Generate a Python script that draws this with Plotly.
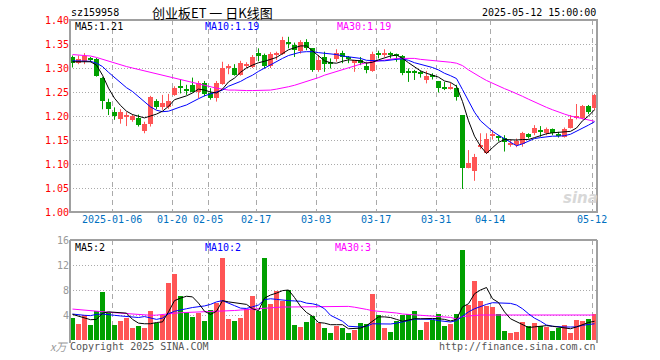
import plotly.graph_objects as go

dates = (["2024-12-25", "2024-12-26", "2024-12-27", "2024-12-30", "2024-12-31",
          "2025-01-02", "2025-01-03"]
         + ["2025-01-%02d" % d for d in (6, 7, 8, 9, 10, 13, 14, 15, 16, 17, 20, 21, 22, 23, 24, 27)]
         + ["2025-02-%02d" % d for d in (5, 6, 7, 10, 11, 12, 13, 14, 17, 18, 19, 20, 21, 24, 25, 26, 27, 28)]
         + ["2025-03-%02d" % d for d in (3, 4, 5, 6, 7, 10, 11, 12, 13, 14, 17, 18, 19, 20, 21, 24, 25, 26, 27, 28, 31)]
         + ["2025-04-%02d" % d for d in (1, 2, 3, 7, 8, 9, 10, 11, 14, 15, 16, 17, 18, 21, 22, 23, 24, 25, 28, 29, 30)]
         + ["2025-05-%02d" % d for d in (6, 7, 8, 9, 12)])

opens = [1.322, 1.310, 1.314, 1.320, 1.318, 1.279, 1.229, 1.209, 1.194, 1.199,
         1.191, 1.195, 1.168, 1.183, 1.232, 1.219, 1.219, 1.244, 1.263, 1.256,
         1.265, 1.251, 1.269, 1.247, 1.237, 1.267, 1.300, 1.301, 1.286, 1.305,
         1.303, 1.332, 1.327, 1.305, 1.328, 1.329, 1.352, 1.348, 1.336, 1.355,
         1.341, 1.296, 1.323, 1.312, 1.318, 1.332, 1.321, 1.310, 1.316, 1.304,
         1.294, 1.330, 1.329, 1.330, 1.328, 1.325, 1.291, 1.291, 1.290, 1.276,
         1.283, 1.273, 1.258, 1.256, 1.258, 1.202, 1.092, 1.086, 1.136, 1.122,
         1.159, 1.156, 1.155, 1.140, 1.140, 1.142, 1.162, 1.164, 1.168, 1.164,
         1.172, 1.161, 1.157, 1.176, 1.196, 1.195, 1.221, 1.216]
closes = [1.311, 1.318, 1.325, 1.318, 1.284, 1.232, 1.215, 1.201, 1.209, 1.201,
          1.200, 1.182, 1.183, 1.239, 1.218, 1.228, 1.232, 1.258, 1.258, 1.253,
          1.251, 1.269, 1.246, 1.237, 1.268, 1.299, 1.302, 1.286, 1.310, 1.309,
          1.323, 1.325, 1.305, 1.329, 1.330, 1.358, 1.350, 1.337, 1.355, 1.341,
          1.296, 1.316, 1.309, 1.310, 1.332, 1.323, 1.320, 1.316, 1.310, 1.296,
          1.330, 1.329, 1.330, 1.329, 1.327, 1.289, 1.290, 1.290, 1.288, 1.283,
          1.282, 1.259, 1.257, 1.261, 1.240, 1.092, 1.103, 1.114, 1.138, 1.152,
          1.161, 1.155, 1.145, 1.142, 1.148, 1.164, 1.157, 1.176, 1.167, 1.172,
          1.165, 1.160, 1.173, 1.193, 1.198, 1.221, 1.209, 1.244]
highs = [1.326, 1.326, 1.331, 1.323, 1.321, 1.281, 1.236, 1.218, 1.214, 1.208,
         1.204, 1.203, 1.188, 1.242, 1.235, 1.244, 1.246, 1.262, 1.276, 1.265,
         1.280, 1.273, 1.273, 1.258, 1.273, 1.313, 1.308, 1.308, 1.315, 1.312,
         1.327, 1.341, 1.330, 1.333, 1.334, 1.365, 1.365, 1.353, 1.358, 1.360,
         1.341, 1.327, 1.334, 1.320, 1.339, 1.336, 1.325, 1.316, 1.323, 1.313,
         1.334, 1.336, 1.339, 1.334, 1.330, 1.327, 1.299, 1.296, 1.295, 1.294,
         1.289, 1.273, 1.271, 1.269, 1.265, 1.202, 1.129, 1.121, 1.164, 1.164,
         1.171, 1.160, 1.160, 1.151, 1.153, 1.167, 1.164, 1.181, 1.179, 1.176,
         1.174, 1.167, 1.176, 1.202, 1.225, 1.223, 1.223, 1.246]
lows = [1.301, 1.308, 1.308, 1.312, 1.282, 1.214, 1.202, 1.192, 1.184, 1.179,
        1.188, 1.178, 1.164, 1.178, 1.214, 1.213, 1.215, 1.242, 1.247, 1.244,
        1.249, 1.237, 1.241, 1.234, 1.230, 1.265, 1.287, 1.284, 1.284, 1.300,
        1.300, 1.314, 1.299, 1.300, 1.317, 1.327, 1.341, 1.323, 1.330, 1.337,
        1.292, 1.292, 1.292, 1.299, 1.313, 1.310, 1.310, 1.292, 1.306, 1.289,
        1.292, 1.320, 1.323, 1.320, 1.313, 1.285, 1.271, 1.275, 1.280, 1.268,
        1.276, 1.249, 1.254, 1.255, 1.232, 1.048, 1.091, 1.065, 1.131, 1.121,
        1.151, 1.147, 1.126, 1.136, 1.135, 1.136, 1.153, 1.160, 1.157, 1.160,
        1.160, 1.155, 1.155, 1.174, 1.193, 1.193, 1.204, 1.212]

ma5 = [1.313, 1.313, 1.313, 1.313, 1.306, 1.285, 1.258, 1.237, 1.222, 1.210,
       1.203, 1.199, 1.196, 1.200, 1.204, 1.210, 1.220, 1.234, 1.238, 1.242,
       1.248, 1.256, 1.254, 1.250, 1.248, 1.256, 1.271, 1.279, 1.291, 1.300,
       1.306, 1.311, 1.314, 1.318, 1.322, 1.330, 1.338, 1.342, 1.346, 1.346,
       1.336, 1.326, 1.315, 1.311, 1.310, 1.314, 1.317, 1.316, 1.315, 1.310,
       1.312, 1.317, 1.321, 1.325, 1.327, 1.320, 1.311, 1.303, 1.294, 1.289,
       1.285, 1.281, 1.273, 1.270, 1.262, 1.230, 1.190, 1.158, 1.137, 1.122,
       1.134, 1.145, 1.151, 1.150, 1.150, 1.151, 1.151, 1.155, 1.159, 1.163,
       1.165, 1.166, 1.166, 1.168, 1.175, 1.190, 1.200, 1.213]
ma10 = [1.315, 1.315, 1.315, 1.314, 1.310, 1.303, 1.291, 1.280, 1.268, 1.259,
        1.251, 1.241, 1.230, 1.219, 1.212, 1.209, 1.210, 1.215, 1.219, 1.223,
        1.230, 1.236, 1.242, 1.246, 1.249, 1.254, 1.262, 1.267, 1.272, 1.279,
        1.285, 1.293, 1.300, 1.307, 1.314, 1.320, 1.326, 1.330, 1.333, 1.334,
        1.334, 1.332, 1.331, 1.330, 1.328, 1.325, 1.323, 1.322, 1.320, 1.316,
        1.315, 1.315, 1.315, 1.317, 1.318, 1.319, 1.316, 1.311, 1.308, 1.305,
        1.301, 1.296, 1.289, 1.284, 1.278, 1.255, 1.230, 1.208, 1.190, 1.178,
        1.168, 1.160, 1.153, 1.146, 1.138, 1.142, 1.148, 1.153, 1.155, 1.157,
        1.158, 1.158, 1.159, 1.162, 1.168, 1.175, 1.181, 1.188]
ma30 = [1.328, 1.327, 1.326, 1.325, 1.322, 1.318, 1.314, 1.310, 1.306, 1.303,
        1.300, 1.297, 1.293, 1.290, 1.287, 1.284, 1.281, 1.278, 1.275, 1.272,
        1.269, 1.266, 1.263, 1.260, 1.258, 1.256, 1.254, 1.254, 1.253, 1.253,
        1.253, 1.253, 1.254, 1.254, 1.256, 1.258, 1.261, 1.264, 1.268, 1.272,
        1.275, 1.280, 1.285, 1.289, 1.293, 1.297, 1.300, 1.304, 1.308, 1.311,
        1.313, 1.315, 1.316, 1.318, 1.320, 1.320, 1.320, 1.320, 1.318, 1.317,
        1.315, 1.314, 1.313, 1.312, 1.310, 1.305, 1.296, 1.288, 1.281, 1.274,
        1.268, 1.262, 1.257, 1.252, 1.247, 1.241, 1.235, 1.229, 1.223, 1.218,
        1.213, 1.208, 1.204, 1.200, 1.197, 1.194, 1.191, 1.189]

volume = [3.6, 2.6, 4.05, 2.45, 4.7, 7.7, 4.5, 2.45, 3.1, 3.5,
          2.0, 2.3, 2.0, 4.7, 2.8, 4.05, 9.2, 10.6, 7.1, 4.5,
          3.7, 4.4, 3.1, 4.85, 5.95, 13.2, 3.4, 3.1, 3.6, 5.0,
          7.1, 4.7, 13.2, 5.8, 7.9, 6.3, 8.0, 2.45, 2.1, 2.9,
          3.9, 2.8, 2.0, 1.1, 2.3, 1.85, 1.2, 1.6, 2.8, 2.6,
          7.4, 4.0, 1.85, 1.3, 3.0, 4.0, 4.2, 4.7, 1.65, 2.9,
          3.25, 4.2, 2.3, 2.6, 4.2, 14.45, 5.65, 9.5, 6.3, 5.5,
          5.35, 4.2, 1.5, 1.17, 1.33, 2.9, 2.3, 2.8, 2.3, 2.1,
          1.5, 2.0, 2.45, 1.17, 3.25, 3.1, 3.4, 4.2]
vma5 = [4.1, 3.8, 3.5, 3.25, 3.3, 4.3, 4.5, 4.45, 4.4, 4.3,
        3.3, 2.7, 2.6, 2.6, 2.8, 2.9, 4.5, 6.3, 6.7, 7.0,
        6.9, 5.9, 4.6, 4.1, 4.6, 6.3, 6.1, 6.0, 5.8, 5.7,
        5.0, 4.7, 6.7, 7.2, 7.5, 7.9, 8.0, 6.8, 5.4, 4.4,
        3.8, 2.8, 2.7, 2.45, 2.45, 2.45, 1.8, 1.8, 1.9, 2.3,
        3.0, 3.7, 3.7, 3.6, 3.3, 3.0, 3.2, 3.4, 3.4, 3.45,
        3.45, 3.4, 3.3, 3.05, 3.3, 5.3, 5.8, 7.4, 8.0, 8.4,
        6.6, 6.0, 4.5, 3.4, 2.9, 2.4, 2.0, 2.1, 2.2, 2.3,
        2.2, 2.05, 1.9, 1.8, 2.1, 2.5, 2.8, 3.0]
vma10 = [4.15, 4.0, 3.95, 3.9, 4.1, 4.15, 4.0, 3.95, 3.85, 3.78,
         3.7, 3.6, 3.75, 3.5, 3.3, 3.5, 4.2, 4.6, 4.75, 5.0,
         5.2, 5.3, 5.45, 5.7, 6.1, 6.3, 5.95, 5.5, 5.1, 5.05,
         5.3, 5.6, 6.45, 6.6, 6.5, 6.35, 6.3, 6.25, 6.2, 5.9,
         5.8, 5.55, 5.0, 3.95, 3.5, 3.0, 2.2, 2.1, 2.08, 2.2,
         2.6, 2.58, 2.56, 2.56, 2.7, 2.85, 3.1, 3.35, 3.36, 3.36,
         3.3, 3.1, 3.0, 2.88, 3.1, 3.8, 4.5, 5.0, 5.4, 5.7,
         5.97, 5.95, 5.9, 5.86, 5.6, 5.0, 4.2, 3.5, 3.0, 2.4,
         2.2, 2.1, 2.08, 2.08, 2.1, 2.35, 2.5, 2.6]
vma30 = [4.95, 4.85, 4.75, 4.65, 4.55, 4.48, 4.42, 4.36, 4.30, 4.22,
         4.16, 4.10, 4.04, 3.96, 3.98, 4.04, 4.15, 4.28, 4.37, 4.40,
         4.41, 4.42, 4.48, 4.56, 4.63, 4.66, 4.69, 4.72, 4.80, 4.88,
         4.95, 5.03, 5.12, 5.20, 5.27, 5.28, 5.28, 5.28, 5.28, 5.28,
         5.28, 5.28, 5.28, 5.28, 5.32, 5.36, 5.38, 5.25, 5.12, 4.90,
         4.69, 4.62, 4.55, 4.48, 4.32, 4.16, 4.10, 4.05, 4.00, 3.95,
         3.89, 3.80, 3.72, 3.62, 3.36, 3.75, 3.85, 3.95, 4.00, 4.00,
         4.00, 4.00, 4.00, 4.00, 4.00, 4.00, 4.00, 4.00, 4.00, 4.00,
         4.00, 4.00, 4.00, 4.00, 4.00, 4.00, 4.00, 4.00]

tick_dates = ["2025-01-06", "2025-01-20", "2025-02-05", "2025-02-17", "2025-03-03",
              "2025-03-17", "2025-03-31", "2025-04-14", "2025-05-12"]
tick_text = ["2025-01-06", "01-20", "02-05", "02-17", "03-03", "03-17", "03-31", "04-14", "05-12"]
price_ticks = [1.00, 1.05, 1.10, 1.15, 1.20, 1.25, 1.30, 1.35, 1.40]
vol_ticks = [4, 8, 12, 16]

RED = "#ff5555"
GREEN = "#00a000"
MONO = "DejaVu Sans Mono"

x = list(range(len(dates)))
up = [c >= o for o, c in zip(opens, closes)]

fig = go.Figure()

# candle wicks
for flag, col in ((True, RED), (False, GREEN)):
    wx, wy = [], []
    for i in x:
        if up[i] == flag:
            wx += [i, i, None]
            wy += [lows[i], highs[i], None]
    fig.add_trace(go.Scatter(x=wx, y=wy, mode="lines", line=dict(color=col, width=1),
                             hoverinfo="skip", showlegend=False, xaxis="x", yaxis="y"))

# candle bodies
for flag, col in ((True, RED), (False, GREEN)):
    bx = [i for i in x if up[i] == flag]
    base = [min(opens[i], closes[i]) for i in bx]
    h = [max(abs(closes[i] - opens[i]), 0.0021) for i in bx]
    fig.add_trace(go.Bar(x=bx, y=h, base=base, width=5 / 6, marker=dict(color=col, line=dict(width=0)),
                         showlegend=False, xaxis="x", yaxis="y"))

for arr, col in ((ma30, "#ff00ff"), (ma10, "#0000ff"), (ma5, "#000000")):
    fig.add_trace(go.Scatter(x=x, y=arr, mode="lines", line=dict(color=col, width=1),
                             showlegend=False, xaxis="x", yaxis="y"))

# volume
for flag, col in ((True, RED), (False, GREEN)):
    bx = [i for i in x if up[i] == flag]
    fig.add_trace(go.Bar(x=bx, y=[volume[i] for i in bx], width=5 / 6,
                         marker=dict(color=col, line=dict(width=0)),
                         showlegend=False, xaxis="x2", yaxis="y2"))
for arr, col in ((vma30, "#ff00ff"), (vma10, "#0000ff"), (vma5, "#000000")):
    fig.add_trace(go.Scatter(x=x, y=arr, mode="lines", line=dict(color=col, width=1),
                             showlegend=False, xaxis="x2", yaxis="y2"))

L, R, T, B = 70, 63, 20, 20
W, H = 660, 360
PW, PH = W - L - R, H - T - B


def px(v):
    return (v - L) / PW


def py(v):
    return (H - B - v) / PH


tickvals = [dates.index(d) - 0.4 for d in tick_dates]
xr = [-2.5 / 6, -2.5 / 6 + PW / 6]
GRID = "#aaaaaa"

fig.update_layout(
    width=W, height=H, margin=dict(l=L, r=R, t=T, b=B),
    paper_bgcolor="white", plot_bgcolor="white", barmode="overlay", bargap=0,
    xaxis=dict(domain=[0, 1], anchor="y", range=xr, tickmode="array", tickvals=tickvals,
               ticktext=tick_text, tickfont=dict(family=MONO, size=10, color="#0070c0"),
               showgrid=True, gridcolor=GRID, griddash="5px,4px", gridwidth=1,
               showline=False, zeroline=False, ticks=""),
    yaxis=dict(domain=[py(212), 1], anchor="x", range=[1.0, 1.4], tickmode="array",
               tickvals=price_ticks, ticktext=["%.2f" % v for v in price_ticks],
               tickfont=dict(family=MONO, size=10, color="#ff0000"),
               showgrid=True, gridcolor=GRID, griddash="1px,2px", gridwidth=1,
               zeroline=False, showline=False, ticks=""),
    xaxis2=dict(domain=[0, 1], anchor="y2", range=xr, tickmode="array", tickvals=tickvals,
                showticklabels=False, showgrid=True, gridcolor=GRID, griddash="5px,4px",
                gridwidth=1, showline=False, zeroline=False, ticks=""),
    yaxis2=dict(domain=[0, py(240)], anchor="x2", range=[0, 16], tickmode="array",
                tickvals=vol_ticks, ticktext=[str(v) for v in vol_ticks],
                tickfont=dict(family=MONO, size=10, color="#999999"),
                showgrid=True, gridcolor=GRID, griddash="1px,2px", gridwidth=1,
                zeroline=False, showline=False, ticks=""),
)

FR = "#a0a0a0"
shapes = [
    dict(type="rect", xref="paper", yref="paper", x0=0, x1=1, y0=py(212), y1=1,
         line=dict(color=FR, width=2), layer="above"),
    dict(type="line", xref="paper", yref="paper", x0=0, x1=1, y0=py(240), y1=py(240),
         line=dict(color=FR, width=2)),
    dict(type="line", xref="paper", yref="paper", x0=0, x1=0, y0=py(343), y1=py(240),
         line=dict(color=FR, width=2)),
    dict(type="line", xref="paper", yref="paper", x0=1, x1=1, y0=py(343), y1=py(240),
         line=dict(color=FR, width=2)),
]
fig.update_layout(shapes=shapes)


def ann(text, x0, y0, color="#000000", size=10, anchor="left", family=MONO, italic=False):
    return dict(text=text, xref="paper", yref="paper", x=px(x0), y=py(y0),
                xanchor=anchor, yanchor="middle", showarrow=False,
                font=dict(family=family, size=size, color=color,
                          style="italic" if italic else "normal"))


anns = [
    ann("sz159958", 69, 12),
    ann("创业板ET 一 日K线图", 150, 13, size=13, family="Noto Sans CJK SC"),
    ann("2025-05-12 15:00:00", 598, 12, anchor="right"),
    ann("MA5:1.21", 73, 26),
    ann("MA10:1.19", 203, 26, color="#0000ff"),
    ann("MA30:1.19", 335, 26, color="#ff00ff"),
    ann("MA5:2", 73, 247),
    ann("MA10:2", 203, 247, color="#0000ff"),
    ann("MA30:3", 333, 247, color="#ff00ff"),
    ann("x万", 48, 346, color="#999999", size=11, family="Noto Sans CJK SC", italic=True),
    ann("Copyright 2025 SINA.COM", 68, 346, color="#555555"),
    ann("http://finance.sina.com.cn", 598, 346, color="#555555", anchor="right"),
    ann("<b>sina</b>", 580, 198, color="#d8d8d8", size=15, family="DejaVu Sans", italic=True,
        anchor="center"),
]
fig.update_layout(annotations=anns)

fig.write_html("out.html", config={"displayModeBar": False},
               post_script="document.body.style.margin='0';document.body.style.overflow='hidden';")
